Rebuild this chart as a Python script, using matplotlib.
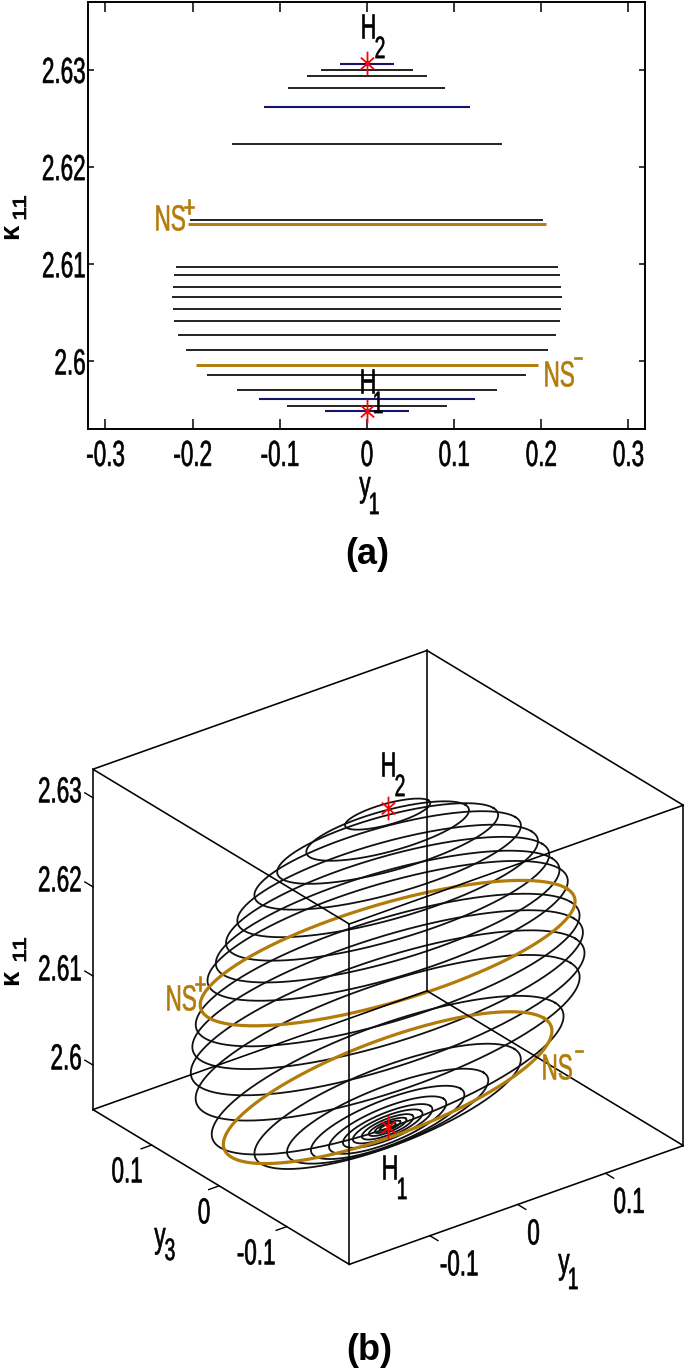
import numpy as np
import matplotlib
matplotlib.use("Agg")
import matplotlib.pyplot as plt
from matplotlib.path import Path
from matplotlib.patheffects import AbstractPathEffect
from matplotlib.transforms import Affine2D
from mpl_toolkits.mplot3d import proj3d

plt.rcParams['font.family'] = ['Liberation Sans', 'DejaVu Sans']

W, H = 685, 1368
GOLD = '#B27C0A'
NAVY = '#15156E'
LABEL = 21

# panel (a): one line per orbit, k11 value and half extent in y1
a_black_k = [2.6300, 2.6293, 2.6281, 2.6223, 2.6145, 2.6097, 2.6088, 2.6076, 2.6066,
             2.6054, 2.6041, 2.6027, 2.6011, 2.5986, 2.5970, 2.5954]
a_black_y1 = [0.0525, 0.069, 0.09, 0.155, 0.2025, 0.219, 0.221, 0.223, 0.2233,
              0.223, 0.221, 0.217, 0.208, 0.183, 0.149, 0.0915]
a_navy_k = [2.6306, 2.6261, 2.5961, 2.5949]
a_navy_y1 = [0.031, 0.118, 0.124, 0.048]
a_gold_k = [2.6141, 2.5996]
a_gold_y1 = [0.205, 0.196]
a_xticks = [-0.3, -0.2, -0.1, 0, 0.1, 0.2, 0.3]
a_xlabels = ['-0.3', '-0.2', '-0.1', '0', '0.1', '0.2', '0.3']
a_yticks = [2.6, 2.61, 2.62, 2.63]
a_ylabels = ['2.6', '2.61', '2.62', '2.63']

# panel (b): k11, y1 amplitude, y3 amplitude, y3 phase lag (deg) of each closed orbit
b_k = [2.6300, 2.6281, 2.6267, 2.6248, 2.6225, 2.6205, 2.6185, 2.6169, 2.6125, 2.6103,
       2.6077, 2.6049, 2.6007, 2.5972, 2.5961, 2.5954, 2.5951, 2.5950, 2.59495, 2.5949,
       2.5949, 2.5949, 2.5949]
b_y1 = [0.0456, 0.0868, 0.118, 0.143, 0.162, 0.176, 0.187, 0.197, 0.212, 0.218,
        0.2226, 0.220, 0.206, 0.159, 0.1205, 0.0924, 0.0714, 0.0545, 0.0424, 0.0315,
        0.023, 0.0157, 0.0097]
b_y3 = [0.018, 0.035, 0.047, 0.057, 0.065, 0.070, 0.075, 0.079, 0.085, 0.087,
        0.089, 0.088, 0.082, 0.064, 0.048, 0.037, 0.029, 0.022, 0.017, 0.013,
        0.009, 0.006, 0.004]
b_lag = [94, 94, 94, 93, 92, 90, 90, 89, 87, 85, 82.5, 80, 76, 72.5, 72, 71, 69, 69, 69, 69, 69, 69, 69]
b_gold_k = [2.6144, 2.5993]
b_gold_y1 = [0.205, 0.1945]
b_gold_y3 = [0.082, 0.078]
b_gold_lag = [89, 74]
hopf_k = [2.5949, 2.6307]
y1_lim = (-0.1918, 0.1886)
y3_lim = (-0.1926, 0.187)
k_lim = (2.595, 2.6332)
b_y1_ticks = [-0.1, 0, 0.1]
b_y3_ticks = [-0.1, 0, 0.1]
b_k_ticks = [2.6, 2.61, 2.62, 2.63]


class Squeeze(AbstractPathEffect):
    # the reference text is condensed, no condensed family is installed
    def __init__(self, sx=0.77, sy=1.24, anchor=0.5, stroke=0.45):
        super().__init__()
        self.sx, self.sy, self.anchor, self.stroke = sx, sy, anchor, stroke

    def draw_path(self, renderer, gc, tpath, affine, rgbFace=None):
        bb = tpath.get_extents()
        ox = bb.x0 + self.anchor * bb.width
        oy = bb.y0 + 0.5 * bb.height
        squeeze = Affine2D().translate(-ox, -oy).scale(self.sx, self.sy).translate(ox, oy)
        gc0 = renderer.new_gc()
        gc0.copy_properties(gc)
        gc0.set_linewidth(self.stroke)
        gc0.set_foreground(rgbFace)
        renderer.draw_path(gc0, tpath, squeeze + affine, rgbFace)
        gc0.restore()


def put(px, py, s, size=LABEL, squeeze=True, **kw):
    txt = fig.text(px / W, 1 - py / H, s, size=size, ha='center', va='center', **kw)
    if squeeze:
        txt.set_path_effects([Squeeze()])
    return txt


# six armed asterisk, narrow like in the reference
arms = [(0, 1), (0, -1), (0.56, 0.5), (-0.56, -0.5), (-0.56, 0.5), (0.56, -0.5)]
star = Path(arms, [Path.MOVETO, Path.LINETO] * 3)

fig = plt.figure(figsize=(W / 100, H / 100), dpi=100)

# --- panel (a)
ax = fig.add_axes([88 / W, 1 - 429 / H, (645 - 88) / W, (429 - 1.5) / H])
ax.hlines(a_black_k, -np.array(a_black_y1), a_black_y1, color='#111111', lw=1.3)
ax.hlines(a_navy_k, -np.array(a_navy_y1), a_navy_y1, color=NAVY, lw=1.5)
ax.hlines(a_gold_k, -np.array(a_gold_y1), a_gold_y1, color=GOLD, lw=2.1)
ax.plot([0, 0], hopf_k, ls='none', marker=star, ms=17, mew=1.3, color='red', mfc='none')
ax.set_xlim(-0.32, 0.319)
ax.set_ylim(2.593, 2.637)
ax.set_xticks(a_xticks)
ax.set_xticklabels(a_xlabels, size=LABEL)
ax.set_yticks(a_yticks)
ax.set_yticklabels(a_ylabels, size=LABEL)
ax.tick_params(direction='in', width=1.1, top=True, right=True)
ax.tick_params(axis='x', pad=9, length=7)
ax.tick_params(axis='y', pad=1.5, length=4.5)
for lab in ax.get_xticklabels():
    lab.set_path_effects([Squeeze()])
for lab in ax.get_yticklabels():
    lab.set_path_effects([Squeeze(anchor=1.0)])
for s in ax.spines.values():
    s.set_linewidth(1.4)

put(368, 28, 'H')
put(380, 49, '2', size=18)
put(170, 220, 'NS', color=GOLD)
put(189, 208, '+', size=18, color=GOLD)
put(367.5, 383, 'H')
put(378, 404, '1', size=18)
put(559, 376, 'NS', color=GOLD)
put(578, 360, '\u2212', size=16, color=GOLD)
put(365, 487, 'y')
put(374, 505, '1', size=18)
put(11, 231, 'κ', size=20, rotation=90, fontweight='bold', squeeze=False)
put(21, 208, '11', size=18, rotation=90).set_path_effects([Squeeze(1.0, 0.75, stroke=0.6)])
put(367, 555, '(a)', size=26, fontweight='bold', squeeze=False)

# --- panel (b)
ax3 = fig.add_axes([0.1, 0.1, 0.8, 0.4], projection='3d', proj_type='ortho', computed_zorder=False)
ax3.view_init(elev=27.6, azim=-127.5)
ax3.set_box_aspect((421, 421, 384))
ax3.set_xlim(*y1_lim)
ax3.set_ylim(*y3_lim)
ax3.set_zlim(*k_lim)
ax3.set_axis_off()
ax3.patch.set_visible(False)

t = np.linspace(0, 2 * np.pi, 300)
for k, a, b, lag in zip(b_k, b_y1, b_y3, b_lag):
    ax3.plot(a * np.cos(t), b * np.cos(t + np.radians(lag)), k, color='#111111', lw=1.3, zorder=2)
for k, a, b, lag in zip(b_gold_k, b_gold_y1, b_gold_y3, b_gold_lag):
    ax3.plot(a * np.cos(t), b * np.cos(t + np.radians(lag)), k, color=GOLD, lw=2.3, zorder=3)
ax3.plot([0, 0], [0, 0], hopf_k, ls='none', marker=star, ms=17, mew=1.3, color='red', mfc='none', zorder=4)

# box edges
x0, x1 = y1_lim
y0, y1 = y3_lim
z0, z1 = k_lim
for z in (z0, z1):
    ax3.plot([x0, x1, x1, x0, x0], [y0, y0, y1, y1, y0], [z, z, z, z, z], color='k', lw=1.15, zorder=5)
for xc, yc in ((x0, y0), (x1, y0), (x1, y1), (x0, y1)):
    ax3.plot([xc, xc], [yc, yc], [z0, z1], color='k', lw=1.15, zorder=5)

# outward tick marks
for v in b_y1_ticks:
    ax3.plot([v, v], [y0, y0 - 0.012], [z0, z0], color='k', lw=1.0)
for v in b_y3_ticks:
    ax3.plot([x0, x0 - 0.012], [v, v], [z0, z0], color='k', lw=1.0)
for v in b_k_ticks:
    ax3.plot([x0, x0], [y1, y1 + 0.012], [v, v], color='k', lw=1.0)


def corner_px(x, y, z):
    xs, ys, _ = proj3d.proj_transform(x, y, z, ax3.get_proj())
    return ax3.transData.transform((xs, ys))


# size and place the square 3d axes so the box lands on the reference corners
side = 800.0
cx, cy = 388.0, H - 960.0
target_a = np.array([349.4, H - 1264.3])
target_b = np.array([92.8, H - 769.3])
for i in range(3):
    ax3.set_position([(cx - side / 2) / W, (cy - side / 2) / H, side / W, side / H])
    fig.canvas.draw()
    pa = corner_px(x0, y0, z0)
    pb = corner_px(x0, y1, z1)
    side *= np.linalg.norm(target_b - target_a) / np.linalg.norm(pb - pa)
    shift = (target_a + target_b) / 2 - (pa + pb) / 2
    cx += shift[0]
    cy += shift[1]
ax3.set_position([(cx - side / 2) / W, (cy - side / 2) / H, side / W, side / H])

put(388, 766, 'H')
put(400, 787, '2', size=18)
put(389.5, 1169, 'H')
put(402, 1190, '1', size=18)
put(181, 1000, 'NS', color=GOLD)
put(200, 985, '+', size=18, color=GOLD)
put(557, 1069, 'NS', color=GOLD)
put(579, 1053, '\u2212', size=16, color=GOLD)
for s, py in zip(['2.63', '2.62', '2.61', '2.6'], [792, 881, 970, 1059]):
    lab = fig.text(82 / W, 1 - py / H, s, size=LABEL, ha='right', va='center')
    lab.set_path_effects([Squeeze(anchor=1.0)])
put(127, 1172, '0.1')
put(204, 1213, '0')
put(256, 1254, '-0.1')
put(459, 1265, '-0.1')
put(533.5, 1234, '0')
put(629, 1202.5, '0.1')
put(160, 1238, 'y')
put(170, 1251, '3', size=18)
put(564, 1264, 'y')
put(573, 1280, '1', size=18)
put(11, 977, 'κ', size=20, rotation=90, fontweight='bold', squeeze=False)
put(21, 950, '11', size=18, rotation=90).set_path_effects([Squeeze(1.0, 0.75, stroke=0.6)])
put(369, 1351, '(b)', size=26, fontweight='bold', squeeze=False)

fig.savefig('out.png', dpi=100)
